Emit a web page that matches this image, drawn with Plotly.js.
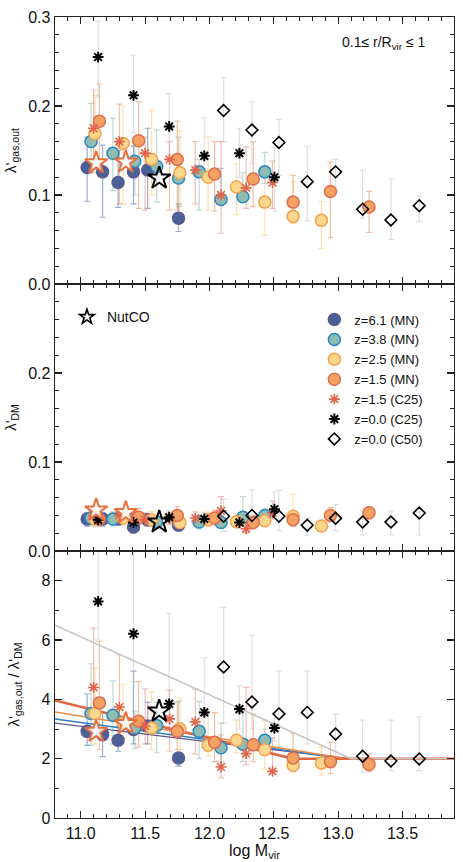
<!DOCTYPE html>
<html>
<head>
<meta charset="utf-8">
<script src="https://cdn.plot.ly/plotly-3.0.1.min.js"></script>
<style>
  body { margin: 0; background: #fff; }
  #plot { width: 463px; height: 862px; }
</style>
</head>
<body>
<div id="plot"></div>
<script>
// ---- data ----
// MN z=6.1
var mn61_x        = [11.05, 11.17, 11.29, 11.41, 11.52, 11.76];
var mn61_gas      = [0.131, 0.126, 0.114, 0.126, 0.128, 0.074];
var mn61_gas_lo   = [0.093, 0.075, 0.086, 0.090, 0.085, 0.059];
var mn61_gas_hi   = [0.165, 0.156, 0.150, 0.155, 0.175, 0.090];
var mn61_dm       = [0.036, 0.036, 0.036, 0.027, 0.035, 0.029];
var mn61_dm_lo    = [0.028, 0.028, 0.029, 0.020, 0.028, 0.025];
var mn61_dm_hi    = [0.043, 0.043, 0.042, 0.035, 0.042, 0.033];
var mn61_rat      = [2.92, 2.81, 2.62, 2.98, 3.10, 2.02];
var mn61_rat_lo   = [2.45, 2.07, 2.25, 2.50, 2.50, 1.75];
var mn61_rat_hi   = [4.18, 3.55, 3.10, 4.95, 3.90, 2.20];

// MN z=3.8
var mn38_x        = [11.08, 11.25, 11.42, 11.59, 11.76, 11.92, 12.09, 12.26, 12.43];
var mn38_gas      = [0.160, 0.147, 0.138, 0.132, 0.119, 0.126, 0.095, 0.098, 0.126];
var mn38_gas_lo   = [0.125, 0.105, 0.100, 0.092, 0.087, 0.083, 0.090, 0.093, 0.113];
var mn38_gas_hi   = [0.203, 0.186, 0.165, 0.173, 0.165, 0.140, 0.130, 0.125, 0.148];
var mn38_dm       = [0.037, 0.036, 0.036, 0.0325, 0.033, 0.0325, 0.032, 0.038, 0.040];
var mn38_dm_lo    = [0.028, 0.028, 0.028, 0.026, 0.027, 0.025, 0.026, 0.030, 0.033];
var mn38_dm_hi    = [0.045, 0.044, 0.043, 0.039, 0.040, 0.040, 0.040, 0.061, 0.047];
var mn38_rat      = [3.52, 3.46, 3.03, 3.12, 2.95, 2.92, 2.37, 2.49, 2.62];
var mn38_rat_lo   = [2.45, 2.50, 2.35, 2.20, 2.70, 2.00, 1.90, 1.90, 2.30];
var mn38_rat_hi   = [5.20, 4.62, 3.60, 3.90, 3.95, 3.93, 3.20, 3.60, 3.00];

// MN z=2.5
var mn25_x        = [11.11, 11.33, 11.55, 11.77, 11.99, 12.21, 12.43, 12.65, 12.87];
var mn25_gas      = [0.169, 0.158, 0.140, 0.125, 0.120, 0.109, 0.092, 0.076, 0.0715];
var mn25_gas_lo   = [0.130, 0.090, 0.100, 0.088, 0.083, 0.078, 0.055, 0.068, 0.040];
var mn25_gas_hi   = [0.212, 0.200, 0.195, 0.172, 0.165, 0.135, 0.125, 0.115, 0.093];
var mn25_dm       = [0.036, 0.037, 0.035, 0.032, 0.035, 0.033, 0.034, 0.039, 0.028];
var mn25_dm_lo    = [0.028, 0.029, 0.028, 0.026, 0.027, 0.026, 0.027, 0.032, 0.024];
var mn25_dm_hi    = [0.045, 0.046, 0.044, 0.040, 0.044, 0.042, 0.044, 0.064, 0.034];
var mn25_rat      = [3.52, 3.20, 3.03, 3.01, 2.45, 2.62, 2.30, 1.78, 1.85];
var mn25_rat_lo   = [2.50, 2.70, 2.30, 2.30, 2.10, 2.20, 1.65, 1.55, 1.45];
var mn25_rat_hi   = [5.05, 4.50, 4.25, 4.05, 3.60, 3.30, 3.30, 2.30, 2.40];

// MN z=1.5
var mn15_x        = [11.145, 11.45, 11.75, 12.04, 12.34, 12.65, 12.94, 13.24];
var mn15_gas      = [0.183, 0.161, 0.140, 0.1235, 0.118, 0.092, 0.104, 0.0865];
var mn15_gas_lo   = [0.128, 0.085, 0.083, 0.082, 0.087, 0.070, 0.052, 0.058];
var mn15_gas_hi   = [0.225, 0.205, 0.183, 0.160, 0.160, 0.122, 0.137, 0.104];
var mn15_dm       = [0.036, 0.038, 0.040, 0.037, 0.032, 0.035, 0.040, 0.043];
var mn15_dm_lo    = [0.028, 0.030, 0.032, 0.029, 0.025, 0.028, 0.033, 0.036];
var mn15_dm_hi    = [0.046, 0.048, 0.050, 0.046, 0.040, 0.044, 0.049, 0.049];
var mn15_rat      = [3.88, 3.26, 2.92, 2.55, 2.47, 2.02, 1.90, 1.80];
var mn15_rat_lo   = [2.30, 2.40, 2.30, 1.90, 1.90, 1.60, 1.50, 1.55];
var mn15_rat_hi   = [5.95, 4.60, 3.90, 3.55, 3.50, 2.85, 2.55, 2.15];

// C25 z=1.5
var c25a_x        = [11.10, 11.30, 11.50, 11.69, 11.89, 12.09, 12.285, 12.49];
var c25a_gas      = [0.175, 0.160, 0.147, 0.140, 0.128, 0.100, 0.108, 0.114];
var c25a_gas_lo   = [0.125, 0.090, 0.083, 0.083, 0.090, 0.057, 0.085, 0.085];
var c25a_gas_hi   = [0.218, 0.202, 0.165, 0.160, 0.160, 0.160, 0.154, 0.138];
var c25a_dm       = [0.040, 0.040, 0.035, 0.036, 0.037, 0.045, 0.025, 0.043];
var c25a_dm_lo    = [0.033, 0.033, 0.029, 0.030, 0.031, 0.036, 0.020, 0.036];
var c25a_dm_hi    = [0.047, 0.047, 0.043, 0.043, 0.044, 0.061, 0.032, 0.056];
var c25a_rat      = [4.40, 3.74, 3.10, 3.34, 3.24, 1.72, 2.17, 1.57];
var c25a_rat_lo   = [3.70, 3.20, 2.50, 2.25, 2.15, 1.35, 1.80, 1.50];
var c25a_rat_hi   = [6.40, 5.50, 4.35, 4.30, 4.35, 2.80, 4.40, 2.70];

// C25 z=0.0
var c25b_x        = [11.135, 11.41, 11.687, 11.96, 12.233, 12.505];
var c25b_gas      = [0.255, 0.212, 0.177, 0.144, 0.147, 0.120];
var c25b_gas_lo   = [0.210, 0.170, 0.140, 0.117, 0.120, 0.082];
var c25b_gas_hi   = [0.295, 0.257, 0.214, 0.187, 0.175, 0.153];
var c25b_dm       = [0.035, 0.032, 0.038, 0.036, 0.032, 0.047];
var c25b_dm_lo    = [0.028, 0.025, 0.031, 0.030, 0.025, 0.039];
var c25b_dm_hi    = [0.042, 0.040, 0.045, 0.043, 0.040, 0.066];
var c25b_rat      = [7.30, 6.21, 3.85, 3.56, 3.67, 3.03];
var c25b_rat_lo   = [6.00, 4.60, 3.00, 2.90, 3.00, 2.60];
var c25b_rat_hi   = [9.60, 9.40, 6.90, 5.40, 4.45, 3.50];

// C50 z=0.0
var c50_x         = [12.11, 12.33, 12.54, 12.76, 12.98, 13.19, 13.41, 13.63];
var c50_gas       = [0.195, 0.173, 0.159, 0.115, 0.126, 0.084, 0.072, 0.088];
var c50_gas_lo    = [0.160, 0.135, 0.122, 0.071, 0.105, 0.074, 0.050, 0.070];
var c50_gas_hi    = [0.232, 0.205, 0.185, 0.155, 0.140, 0.128, 0.118, 0.099];
var c50_dm        = [0.039, 0.040, 0.039, 0.029, 0.0367, 0.0325, 0.0325, 0.0427];
var c50_dm_lo     = [0.022, 0.024, 0.023, 0.018, 0.023, 0.018, 0.018, 0.018];
var c50_dm_hi     = [0.058, 0.069, 0.068, 0.037, 0.052, 0.045, 0.045, 0.044];
var c50_rat       = [5.09, 3.91, 3.51, 3.56, 2.83, 2.08, 1.92, 1.99];
var c50_rat_lo    = [3.20, 3.00, 2.40, 2.50, 2.00, 1.55, 1.60, 1.60];
var c50_rat_hi    = [7.10, 6.15, 4.95, 4.95, 3.50, 3.30, 3.30, 3.40];

// NutCO
var nut_hi_x   = [11.12, 11.35];
var nut_hi_gas = [0.136, 0.137];
var nut_hi_dm  = [0.046, 0.043];
var nut_hi_rat = [2.92, 3.18];
var nut_lo_x   = [11.61];
var nut_lo_gas = [0.119];
var nut_lo_dm  = [0.0325];
var nut_lo_rat = [3.60];

// fits in the ratio panel
var fit_gray_x   = [10.8, 13.1, 13.9];   var fit_gray_y   = [6.5, 2, 2];
var fit_dorng_x  = [10.8, 12.65, 13.9];  var fit_dorng_y  = [3.96, 2, 2];
var fit_orng_x   = [10.8, 13.07, 13.9];  var fit_orng_y   = [3.57, 2, 2];
var fit_blue_x   = [10.8, 13.07, 13.9];  var fit_blue_y   = [3.34, 2, 2];
var fit_purp_x   = [10.8, 13.07, 13.9];  var fit_purp_y   = [3.20, 2, 2];

// ---- styles ----
var FONT = "Liberation Sans, Arial, Helvetica, sans-serif";

var series = [
  {name: "z=6.1 (MN)", x: mn61_x, p: [[mn61_gas, mn61_gas_lo, mn61_gas_hi], [mn61_dm, mn61_dm_lo, mn61_dm_hi], [mn61_rat, mn61_rat_lo, mn61_rat_hi]],
   marker: {symbol: "circle", size: 12, color: "#4a6097", line: {color: "#5e5a8e", width: 1.5}}, ecol: "rgba(75,110,165,0.55)"},
  {name: "z=3.8 (MN)", x: mn38_x, p: [[mn38_gas, mn38_gas_lo, mn38_gas_hi], [mn38_dm, mn38_dm_lo, mn38_dm_hi], [mn38_rat, mn38_rat_lo, mn38_rat_hi]],
   marker: {symbol: "circle", size: 12, color: "#8dbdb3", line: {color: "#2a87c1", width: 1.5}}, ecol: "rgba(110,170,160,0.45)"},
  {name: "z=2.5 (MN)", x: mn25_x, p: [[mn25_gas, mn25_gas_lo, mn25_gas_hi], [mn25_dm, mn25_dm_lo, mn25_dm_hi], [mn25_rat, mn25_rat_lo, mn25_rat_hi]],
   marker: {symbol: "circle", size: 12, color: "#fed78e", line: {color: "#f4a24e", width: 1.5}}, ecol: "rgba(253,200,110,0.55)"},
  {name: "z=1.5 (MN)", x: mn15_x, p: [[mn15_gas, mn15_gas_lo, mn15_gas_hi], [mn15_dm, mn15_dm_lo, mn15_dm_hi], [mn15_rat, mn15_rat_lo, mn15_rat_hi]],
   marker: {symbol: "circle", size: 12, color: "#f3a264", line: {color: "#df6e4c", width: 1.5}}, ecol: "rgba(238,140,80,0.55)"},
  {name: "z=1.5 (C25)", x: c25a_x, p: [[c25a_gas, c25a_gas_lo, c25a_gas_hi], [c25a_dm, c25a_dm_lo, c25a_dm_hi], [c25a_rat, c25a_rat_lo, c25a_rat_hi]],
   marker: {symbol: "asterisk-open", size: 9, color: "#e0654b", line: {color: "#e0654b", width: 1.6}}, ecol: "rgba(225,110,85,0.45)"},
  {name: "z=0.0 (C25)", x: c25b_x, p: [[c25b_gas, c25b_gas_lo, c25b_gas_hi], [c25b_dm, c25b_dm_lo, c25b_dm_hi], [c25b_rat, c25b_rat_lo, c25b_rat_hi]],
   marker: {symbol: "asterisk-open", size: 9, color: "#000", line: {color: "#000", width: 2}}, ecol: "rgba(185,185,185,0.45)"},
  {name: "z=0.0 (C50)", x: c50_x, p: [[c50_gas, c50_gas_lo, c50_gas_hi], [c50_dm, c50_dm_lo, c50_dm_hi], [c50_rat, c50_rat_lo, c50_rat_hi]],
   marker: {symbol: "diamond-open", size: 9, color: "#000", line: {color: "#000", width: 1.6}}, ecol: "rgba(185,185,185,0.45)"}
];

// panel 0 = top (y3), 1 = middle (y2), 2 = bottom (y)
var yaxes = ["y3", "y2", "y"];
var xaxes = ["x3", "x2", "x"];

var errTraces = [], markTraces = [], lineTraces = [];

series.forEach(function(s, si) {
  for (var k = 0; k < 3; k++) {
    var v = s.p[k][0], lo = s.p[k][1], hi = s.p[k][2];
    errTraces.push({
      x: s.x, y: v, type: "scatter", mode: "markers",
      xaxis: xaxes[k], yaxis: yaxes[k],
      marker: {size: 1, color: "rgba(0,0,0,0)"},
      error_y: {type: "data", symmetric: false,
        array: hi.map(function(h, i) { return h - v[i]; }),
        arrayminus: lo.map(function(l, i) { return v[i] - l; }),
        color: s.ecol, thickness: 1.2, width: 3},
      showlegend: false, hoverinfo: "skip"
    });
    markTraces.push({
      x: s.x, y: v, type: "scatter", mode: "markers",
      xaxis: xaxes[k], yaxis: yaxes[k],
      name: s.name, legendgroup: s.name, showlegend: k === 1,
      marker: s.marker
    });
  }
});

// NutCO stars
var nutPanels = [[nut_hi_gas, nut_lo_gas], [nut_hi_dm, nut_lo_dm], [nut_hi_rat, nut_lo_rat]];
for (var k = 0; k < 3; k++) {
  markTraces.push({
    x: nut_hi_x, y: nutPanels[k][0], type: "scatter", mode: "markers",
    xaxis: xaxes[k], yaxis: yaxes[k], showlegend: false,
    marker: {symbol: "star", size: 17, color: "rgba(255,255,255,0.85)", line: {color: "#e8703f", width: 2}}
  });
  markTraces.push({
    x: nut_lo_x, y: nutPanels[k][1], type: "scatter", mode: "markers",
    xaxis: xaxes[k], yaxis: yaxes[k], showlegend: false,
    marker: {symbol: "star-open", size: 17, color: "#000", line: {color: "#000", width: 2}}
  });
}
// legend key for NutCO (smaller star, like the reference key)
markTraces.push({
  x: [null], y: [null], type: "scatter", mode: "markers", xaxis: "x2", yaxis: "y2",
  name: "NutCO", legend: "legend2", showlegend: true,
  marker: {symbol: "star-open", size: 11, color: "#000", line: {color: "#000", width: 1.6}}
});

// fit lines (bottom panel)
function fitLine(x, y, col, w) {
  return {x: x, y: y, type: "scatter", mode: "lines", xaxis: "x", yaxis: "y",
          line: {color: col, width: w}, showlegend: false, hoverinfo: "skip"};
}
lineTraces.push(fitLine(fit_purp_x, fit_purp_y, "#5a5a92", 1.3));
lineTraces.push(fitLine(fit_blue_x, fit_blue_y, "#2f80bd", 1.5));
lineTraces.push(fitLine(fit_orng_x, fit_orng_y, "#f08a48", 1.5));
lineTraces.push(fitLine(fit_dorng_x, fit_dorng_y, "#e06640", 2.5));
lineTraces.push(fitLine(fit_gray_x, fit_gray_y, "#c4c4c4", 1.5));

var data = errTraces.concat(lineTraces, markTraces);

function xAx(anchor, labels) {
  return {
    anchor: anchor, range: [10.8, 13.9], tick0: 11, dtick: 0.5,
    ticks: "inside", ticklen: 7, tickwidth: 1.2, tickcolor: "#222",
    minor: {dtick: 0.1, ticklen: 4, ticks: "inside", tickcolor: "#222", tickwidth: 1},
    showline: true, linecolor: "#222", linewidth: 1.4, mirror: "allticks",
    showgrid: false, zeroline: false, showticklabels: labels,
    tickformat: ".1f", tickfont: {size: 16, color: "#111"}
  };
}
function yAx(domain, range, tickvals, minorDt, fmt, title, standoff) {
  return {
    domain: domain, range: range, tickmode: "array", tickvals: tickvals,
    ticks: "inside", ticklen: 7, tickwidth: 1.2, tickcolor: "#222",
    minor: {dtick: minorDt, tick0: 0, ticklen: 4, ticks: "inside", tickcolor: "#222", tickwidth: 1},
    showline: true, linecolor: "#222", linewidth: 1.4, mirror: "allticks",
    showgrid: false, zeroline: false, tickformat: fmt,
    tickfont: {size: 16, color: "#111"},
    title: {text: title, font: {size: 15, color: "#111"}, standoff: standoff}
  };
}

var layout = {
  width: 463, height: 862,
  margin: {l: 55, r: 9, t: 17, b: 44},
  paper_bgcolor: "#fff", plot_bgcolor: "#fff",
  font: {family: FONT, color: "#111"},
  xaxis: Object.assign(xAx("y", true), {title: {text: "log M<sub>vir</sub>", font: {size: 16}, standoff: 2}}),
  xaxis2: xAx("y2", false),
  xaxis3: xAx("y3", false),
  yaxis: yAx([0, 1/3], [0, 9], [0, 2, 4, 6, 8], 1, "d", "λ'<sub>gas,out</sub> / λ'<sub>DM</sub>", 18),
  yaxis2: yAx([1/3, 2/3], [0, 0.3], [0, 0.1, 0.2], 0.02, ".1f", "λ'<sub>DM</sub>", 8),
  yaxis3: yAx([2/3, 1], [0, 0.3], [0, 0.1, 0.2, 0.3], 0.02, ".1f", "λ'<sub>gas,out</sub>", 8),
  showlegend: true,
  legend: {x: 0.65, y: 0.641, xanchor: "left", yanchor: "top", bgcolor: "rgba(0,0,0,0)",
           font: {size: 13, color: "#111"}, tracegroupgap: 0, itemsizing: "trace", itemclick: false},
  legend2: {x: 0.03, y: 0.645, xanchor: "left", yanchor: "top", bgcolor: "rgba(0,0,0,0)",
            font: {size: 14, color: "#111"}, itemsizing: "trace", itemclick: false},
  annotations: [{
    xref: "paper", yref: "paper", x: 0.935, y: 0.968, xanchor: "right", yanchor: "middle",
    text: "0.1≤ r/R<sub>vir</sub> ≤ 1", showarrow: false, font: {size: 14, color: "#111"}
  }]
};

Plotly.newPlot("plot", data, layout, {staticPlot: true});
</script>
</body>
</html>
